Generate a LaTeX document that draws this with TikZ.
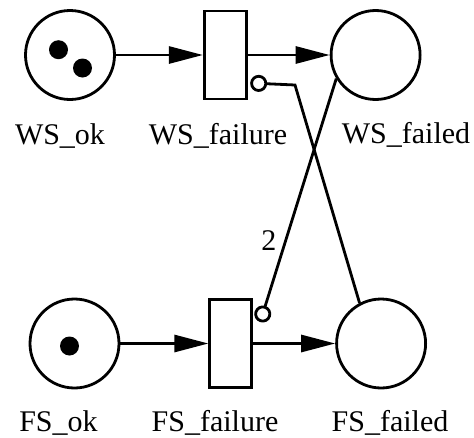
\documentclass[tikz,border=0pt]{standalone}
\usepackage{fontspec}
\setmainfont{Liberation Serif}
\usepackage{tikz}
\usetikzlibrary{arrows.meta, positioning}

\begin{document}
\begin{tikzpicture}[
  x=1pt, y=-1pt,
  every node/.style={font=\fontsize{30}{36}\selectfont},
  place/.style={circle, draw, line width=2.8pt, minimum size=89pt, inner sep=0pt},
  trans/.style={rectangle, draw, line width=2.8pt, minimum width=42pt,
                minimum height=88pt, inner sep=0pt},
  token/.style={circle, fill, minimum size=19pt, inner sep=0pt},
  lbl/.style={anchor=base, inner sep=0pt},
  arc/.style={-{Triangle[length=34pt, width=17pt]}, line width=2.8pt},
  inhib/.style={-{Circle[open, length=17pt]}, line width=2.8pt},
]
\useasboundingbox (0,0) rectangle (474,437);
% places and transitions
\node[place] (wsok) at (70,55) {};
\node[trans, right=87pt of wsok] (wsfail) {};
\node[place, right=82pt of wsfail] (wsfailed) {};
\node[place] (fsok) at (74.5,343.5) {};
\node[trans, right=88pt of fsok] (fsfail) {};
\node[place, right=82pt of fsfail] (fsfailed) {};
% tokens
\node[token] (wstoka) at (58.5,49.7) {};
\node[token] (wstokb) at (82.5,68) {};
\node[token] (fstok) at (69.5,346) {};
% labels
\node[lbl] (wsoklbl)     at (60,144)  {WS\_ok};
\node[lbl] (wsfaillbl)   at (218,144) {WS\_failure};
\node[lbl] (wsfailedlbl) at (406,143) {WS\_failed};
\node[lbl] (fsoklbl)     at (58.5,431) {FS\_ok};
\node[lbl] (fsfaillbl)   at (215,431) {FS\_failure};
\node[lbl] (fsfailedlbl) at (390,431) {FS\_failed};
% inhibitor ends
\coordinate (wskink) at (295,85);
\coordinate (wsinh) at ([xshift=2.5pt, yshift=-28pt]wsfail.east);
\coordinate (fsinh) at ([xshift=7pt, yshift=-24pt]fsfail.north east);
% arcs
\draw[arc] (wsok) -- (wsfail);
\draw[arc] (wsfail) -- (wsfailed);
\draw[arc] (fsok) -- (fsfail);
\draw[arc] (fsfail) -- (fsfailed);
\draw[inhib] (fsfailed.118) -- (wskink) -- (wsinh);
\draw[inhib] (wsfailed.211) -- node[pos=0.664, left=5pt, inner sep=3pt] (wt) {2} (fsinh);
\end{tikzpicture}
\end{document}
